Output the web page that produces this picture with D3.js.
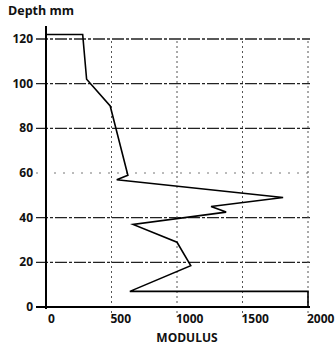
<!DOCTYPE html>
<html>
<head>
<meta charset="utf-8">
<script src="https://cdn.jsdelivr.net/npm/d3@7"></script>
<style>
  body { margin: 0; background: #fff; }
  text { font-family: "Open Sans", sans-serif; font-weight: 600; fill: #111; }
</style>
</head>
<body>
<svg id="chart"></svg>
<script>
const width = 335;
const height = 349;

// modulus / depth profile
const modulus = [0, 280, 310, 490, 625, 540, 1810, 1260, 1375, 665, 1000, 1105, 640, 2000, 2000, 0];
const depth   = [122, 122, 102, 90, 59, 57, 49, 45, 42.5, 37, 29, 18.5, 7, 7, 0, 0];

const xTicks = [0, 500, 1000, 1500, 2000];
const yTicks = [0, 20, 40, 60, 80, 100, 120];

const svg = d3.select('#chart')
  .attr('width', width)
  .attr('height', height);

const x = d3.scaleLinear().domain([0, 2000]).range([46, 308]);
const y = d3.scaleLinear().domain([0, 120]).range([307, 39]);

// horizontal grid lines (dash-dot), 60 is a sparse dotted one
svg.selectAll('.hgrid').data(yTicks.filter(d => d > 0)).enter().append('line')
  .attr('x1', 36).attr('x2', x(2000) + 2)
  .attr('y1', d => y(d)).attr('y2', d => y(d))
  .attr('stroke', d => d == 60 ? '#777' : '#222')
  .attr('stroke-width', d => d == 60 ? 1 : 1.3)
  .attr('stroke-dasharray', d => d == 60 ? '2,7' : '12,2,3,2');

// vertical grid lines (dotted)
svg.selectAll('.vgrid').data(xTicks.filter(d => d > 0)).enter().append('line')
  .attr('x1', d => x(d)).attr('x2', d => x(d))
  .attr('y1', y(120) + 2).attr('y2', y(0) + 6)
  .attr('stroke', '#555')
  .attr('stroke-width', 1)
  .attr('stroke-dasharray', '2,3');

// axes
svg.append('line')
  .attr('x1', x(0)).attr('x2', x(0))
  .attr('y1', 26).attr('y2', y(0) + 2)
  .attr('stroke', '#000').attr('stroke-width', 2);

svg.append('line')
  .attr('x1', 36).attr('x2', x(2000) + 2)
  .attr('y1', y(0)).attr('y2', y(0))
  .attr('stroke', '#000').attr('stroke-width', 2.2);

// tick labels
svg.selectAll('.ylab').data(yTicks).enter().append('text')
  .attr('x', 33)
  .attr('y', d => y(d) + 4)
  .attr('text-anchor', 'end')
  .attr('font-size', 12)
  .style('font-weight', 700)
  .text(d => d);

svg.selectAll('.xlab').data(xTicks).enter().append('text')
  .attr('x', d => x(d) + (d == 0 ? 2 : -1))
  .attr('y', 323)
  .attr('text-anchor', 'start')
  .attr('font-size', 12)
  .style('font-weight', 700)
  .text(d => d);

svg.append('text')
  .attr('x', 8).attr('y', 15)
  .attr('font-size', 12.5)
  .style('font-weight', 700)
  .text('Depth mm');

svg.append('text')
  .attr('x', 187).attr('y', 342)
  .attr('text-anchor', 'middle')
  .attr('font-size', 12)
  .style('font-weight', 700)
  .text('MODULUS');

// profile line
const pts = modulus.map((m, i) => ({ m: m, d: depth[i] }));
const line = d3.line().x(d => x(d.m)).y(d => y(d.d));

svg.append('path')
  .datum(pts)
  .attr('fill', 'none')
  .attr('stroke', '#000')
  .attr('stroke-width', 1.6)
  .attr('stroke-linejoin', 'miter')
  .attr('d', line);
</script>
</body>
</html>
